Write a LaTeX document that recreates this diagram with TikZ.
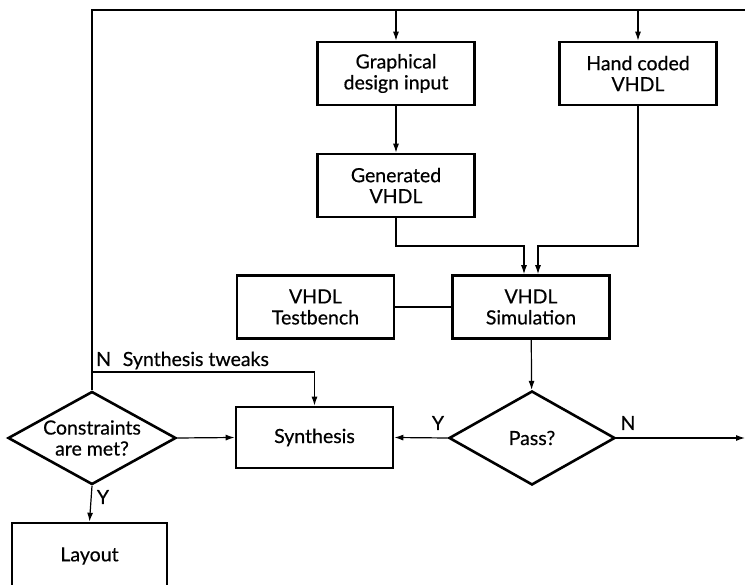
\documentclass[tikz,border=0pt]{standalone}
\usepackage{fontspec}
\setmainfont{Lato}[FakeBold=0.5]
\usetikzlibrary{shapes.geometric,arrows.meta}

\begin{document}
\begin{tikzpicture}[x=1pt,y=-1pt,
  txt/.style={font=\fontsize{19.5}{21}\selectfont},
  box/.style={txt,draw,line width=2.6pt,minimum width=157pt,minimum height=63pt,
    inner sep=0pt,align=center},
  decision/.style={txt,draw,diamond,line width=2.6pt,inner sep=-10pt,align=center},
  link/.style={line width=1.2pt},
  arr/.style={link,-{Latex[length=9pt,width=6pt]}},
  lbl/.style={txt,inner sep=0pt}]
\useasboundingbox (0,0) rectangle (745,585);

% process boxes
\node[box] (gdi)  at (396,73.5)  {Graphical\\design input};
\node[box] (hand) at (638,73.5)  {Hand coded\\VHDL};
\node[box] (gen)  at (396,185.5) {Generated\\VHDL};
\node[box] (tb)   at (315.5,307) {VHDL\\Testbench};
\node[box] (sim)  at (531,307)   {VHDL\\Simulation};
\node[box, minimum height=61pt] (syn) at (314.5,437.5) {Synthesis};
\node[box, minimum width=155pt, minimum height=66pt] (lay) at (89.5,556) {Layout};

% decisions
\node[decision, minimum width=166pt, minimum height=94pt] (pass) at (532,438) {Pass?};
\node[decision, minimum width=168pt, minimum height=92pt] (cons) at (92,438) {Constraints\\are met?};

% free ends and routing levels
\coordinate (top)  at (745,10);
\coordinate (nout) at (745,438);
\coordinate (mrg)  at (0,246);
\coordinate (twk)  at (0,372);

% feedback loop along the top
\draw[link] (cons.north) |- (top);
\draw[arr] (gdi.north |- top) -- (gdi.north);
\draw[arr] (hand.north |- top) -- (hand.north);

% design entry to simulation
\draw[arr] (gdi) -- (gen);
\draw[arr] (gen.south) -- (gen.south |- mrg) -| ([xshift=-7pt]sim.north);
\draw[arr] (hand.south) -- (hand.south |- mrg) -| ([xshift=7pt]sim.north);
\draw[link] (tb) -- (sim);
\draw[arr] (sim) -- (pass);

% decisions
\draw[arr] (pass.west) -- (syn.east);
\draw[arr] (pass.east) -- (nout);
\draw[arr] (cons.east) -- (syn.west);
\draw[arr] (cons.south) -- (lay.north);
\draw[arr] (cons.north |- twk) -| (syn.north);

% branch labels
\node[lbl] (py) at (438,423) {Y};
\node[lbl] (pn) at (628,423) {N};
\node[lbl] (cy) at (103,497) {Y};
\node[lbl, anchor=base west] (cn) at (96,366) {N\hspace{0.6em}Synthesis tweaks};
\end{tikzpicture}
\end{document}
